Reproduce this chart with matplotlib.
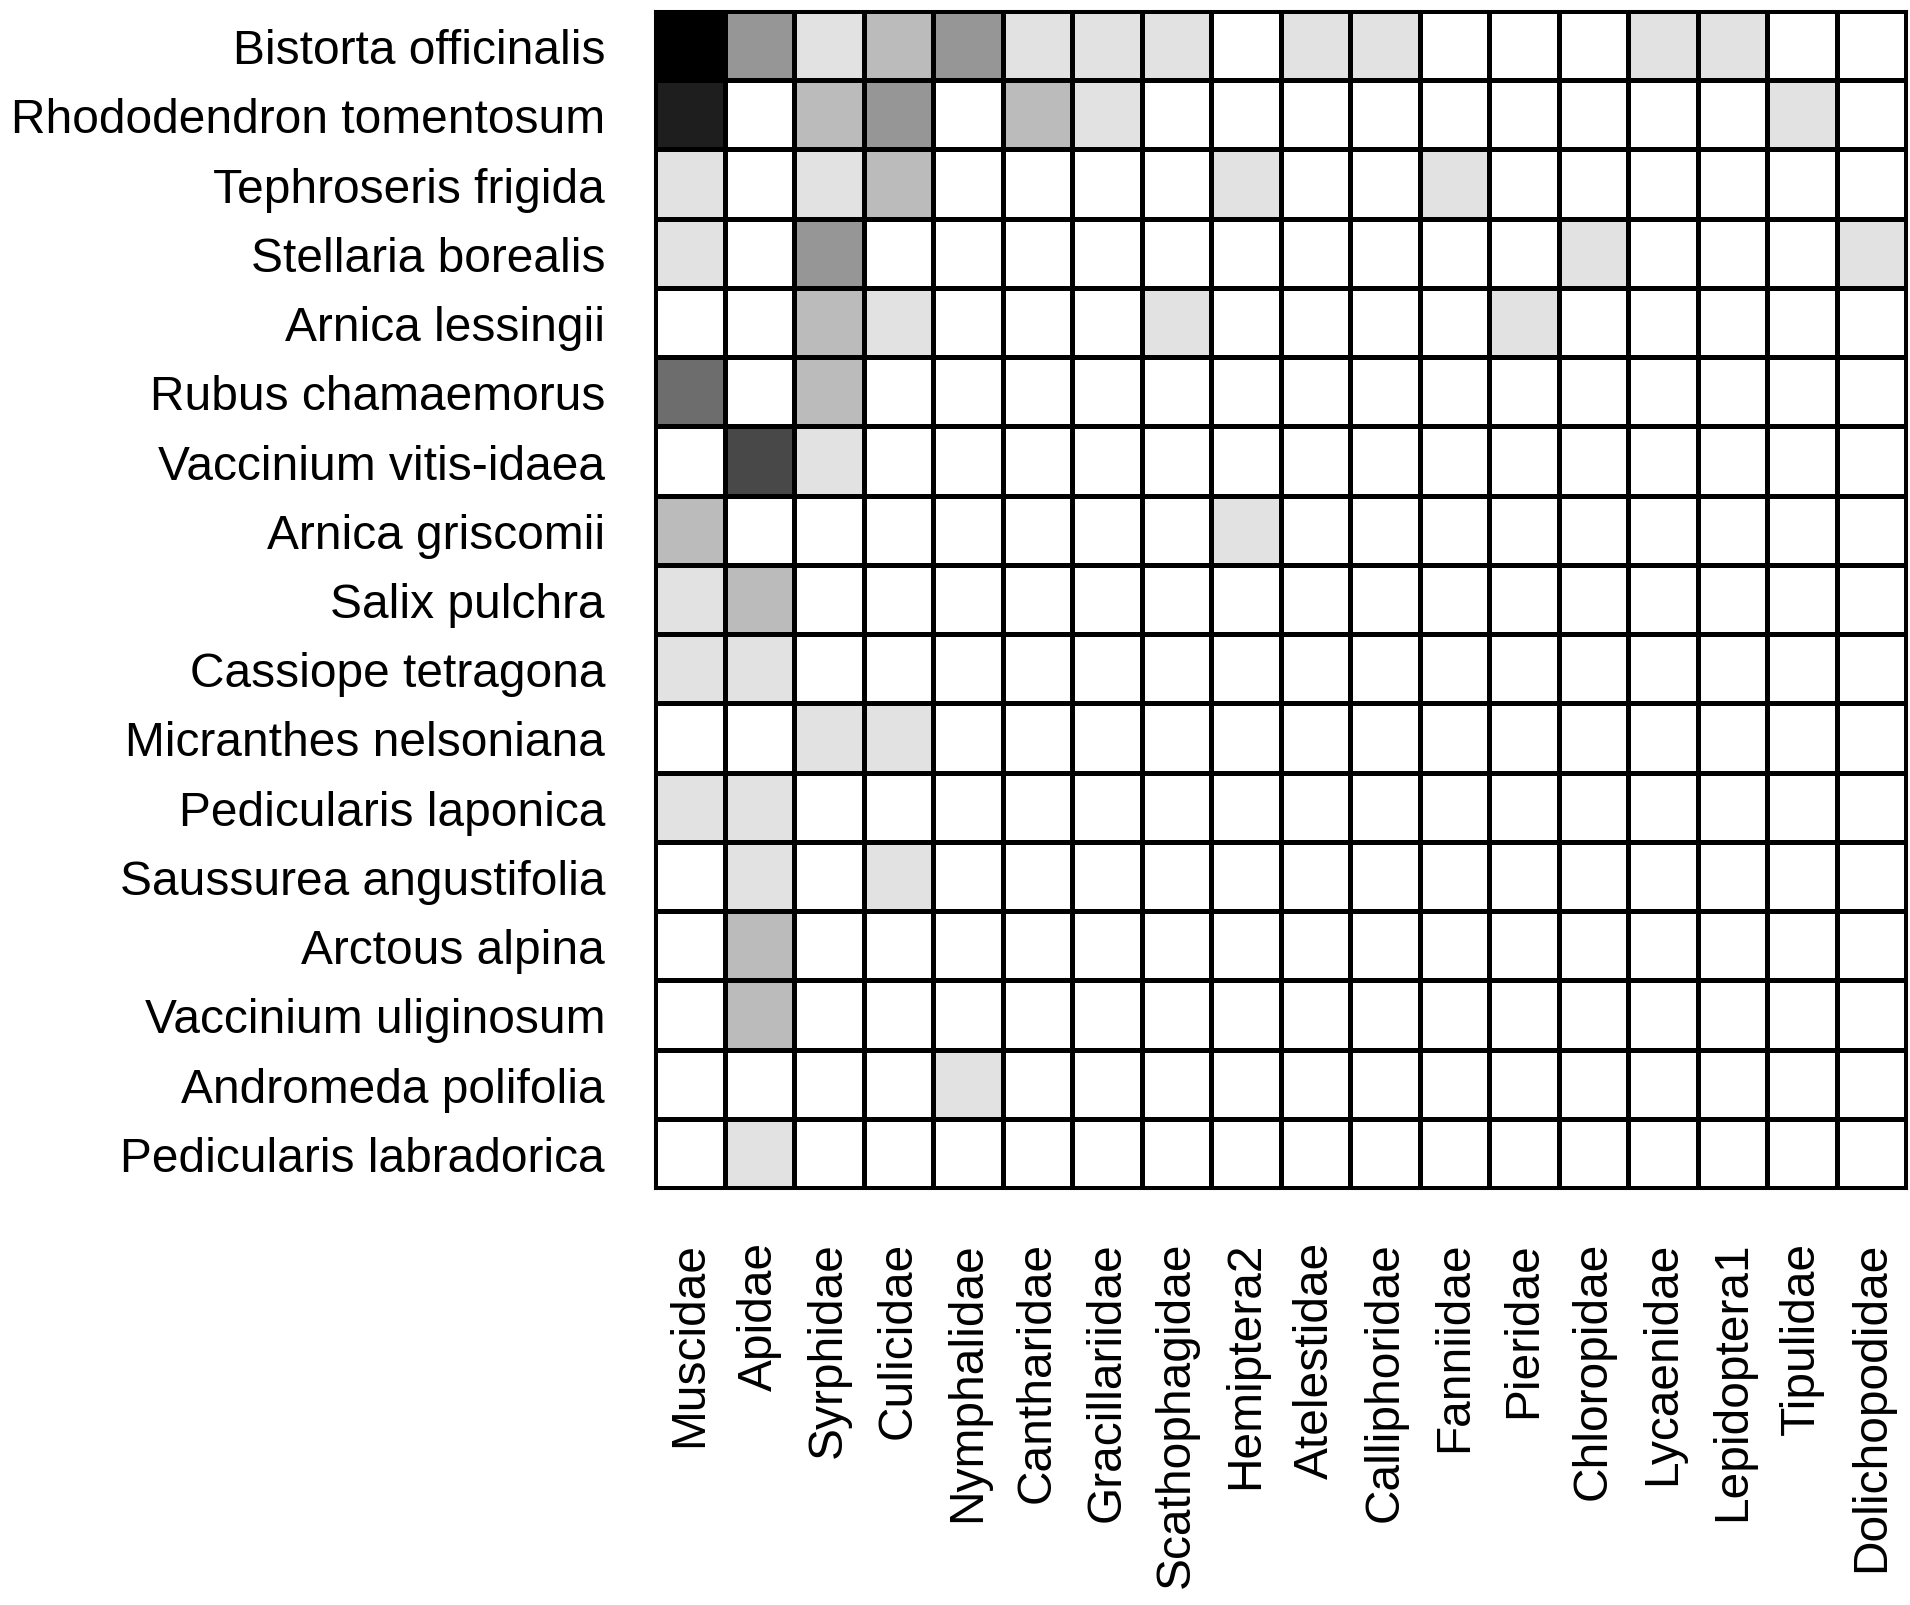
import numpy as np
import matplotlib
matplotlib.use("Agg")
import matplotlib.pyplot as plt
from matplotlib.colors import ListedColormap, BoundaryNorm

plt.rcParams['font.family'] = ['Liberation Sans', 'DejaVu Sans']

plants = ["Bistorta officinalis", "Rhododendron tomentosum", "Tephroseris frigida",
          "Stellaria borealis", "Arnica lessingii", "Rubus chamaemorus",
          "Vaccinium vitis-idaea", "Arnica griscomii", "Salix pulchra",
          "Cassiope tetragona", "Micranthes nelsoniana", "Pedicularis laponica",
          "Saussurea angustifolia", "Arctous alpina", "Vaccinium uliginosum",
          "Andromeda polifolia", "Pedicularis labradorica"]

insects = ["Muscidae", "Apidae", "Syrphidae", "Culicidae", "Nymphalidae",
           "Cantharidae", "Gracillariidae", "Scathophagidae", "Hemiptera2",
           "Atelestidae", "Calliphoridae", "Fanniidae", "Pieridae",
           "Chloropidae", "Lycaenidae", "Lepidoptera1", "Tipulidae",
           "Dolichopodidae"]

# interaction counts (rows = plants, columns = insect families)
row_bistorta      = [7, 3, 1, 2, 3, 1, 1, 1, 0, 1, 1, 0, 0, 0, 1, 1, 0, 0]
row_rhododendron  = [6, 0, 2, 3, 0, 2, 1, 0, 0, 0, 0, 0, 0, 0, 0, 0, 1, 0]
row_tephroseris   = [1, 0, 1, 2, 0, 0, 0, 0, 1, 0, 0, 1, 0, 0, 0, 0, 0, 0]
row_stellaria     = [1, 0, 3, 0, 0, 0, 0, 0, 0, 0, 0, 0, 0, 1, 0, 0, 0, 1]
row_arnica_l      = [0, 0, 2, 1, 0, 0, 0, 1, 0, 0, 0, 0, 1, 0, 0, 0, 0, 0]
row_rubus         = [4, 0, 2, 0, 0, 0, 0, 0, 0, 0, 0, 0, 0, 0, 0, 0, 0, 0]
row_vacc_vitis    = [0, 5, 1, 0, 0, 0, 0, 0, 0, 0, 0, 0, 0, 0, 0, 0, 0, 0]
row_arnica_g      = [2, 0, 0, 0, 0, 0, 0, 0, 1, 0, 0, 0, 0, 0, 0, 0, 0, 0]
row_salix         = [1, 2, 0, 0, 0, 0, 0, 0, 0, 0, 0, 0, 0, 0, 0, 0, 0, 0]
row_cassiope      = [1, 1, 0, 0, 0, 0, 0, 0, 0, 0, 0, 0, 0, 0, 0, 0, 0, 0]
row_micranthes    = [0, 0, 1, 1, 0, 0, 0, 0, 0, 0, 0, 0, 0, 0, 0, 0, 0, 0]
row_ped_laponica  = [1, 1, 0, 0, 0, 0, 0, 0, 0, 0, 0, 0, 0, 0, 0, 0, 0, 0]
row_saussurea     = [0, 1, 0, 1, 0, 0, 0, 0, 0, 0, 0, 0, 0, 0, 0, 0, 0, 0]
row_arctous       = [0, 2, 0, 0, 0, 0, 0, 0, 0, 0, 0, 0, 0, 0, 0, 0, 0, 0]
row_vacc_ulig     = [0, 2, 0, 0, 0, 0, 0, 0, 0, 0, 0, 0, 0, 0, 0, 0, 0, 0]
row_andromeda     = [0, 0, 0, 0, 1, 0, 0, 0, 0, 0, 0, 0, 0, 0, 0, 0, 0, 0]
row_ped_labrador  = [0, 1, 0, 0, 0, 0, 0, 0, 0, 0, 0, 0, 0, 0, 0, 0, 0, 0]

matrix = np.array([row_bistorta, row_rhododendron, row_tephroseris, row_stellaria,
                   row_arnica_l, row_rubus, row_vacc_vitis, row_arnica_g, row_salix,
                   row_cassiope, row_micranthes, row_ped_laponica, row_saussurea,
                   row_arctous, row_vacc_ulig, row_andromeda, row_ped_labrador])

grey_levels = ['#ffffff', '#e2e2e2', '#bbbbbb', '#969696', '#6d6d6d',
               '#484848', '#1e1e1e', '#000000']
cmap = ListedColormap(grey_levels)
norm = BoundaryNorm(np.arange(-0.5, len(grey_levels) + 0.5, 1), cmap.N)

W, H = 1910, 1606
fig = plt.figure(figsize=(W / 100, H / 100), dpi=100)
left, right, top, bottom = 655, 1906, 12, 1189
ax = fig.add_axes([left / W, 1 - bottom / H, (right - left) / W, (bottom - top) / H])

nrows, ncols = matrix.shape
ax.pcolormesh(np.arange(ncols + 1), np.arange(nrows + 1), matrix,
              cmap=cmap, norm=norm, edgecolors='black', linewidth=2.2)
ax.set_xlim(0, ncols)
ax.set_ylim(nrows, 0)

ax.set_xticks(np.arange(ncols) + 0.5)
ax.set_xticklabels(insects, rotation=90, va='top', ha='center', fontsize=34.5)
ax.set_yticks(np.arange(nrows) + 0.5)
ax.set_yticklabels(plants, fontsize=34.5)
ax.tick_params(axis='both', length=0)
ax.tick_params(axis='y', pad=36)
ax.tick_params(axis='x', pad=38)
for sp in ax.spines.values():
    sp.set_linewidth(2.2)
    sp.set_color('black')

fig.savefig("out.png", dpi=100, facecolor='white')
